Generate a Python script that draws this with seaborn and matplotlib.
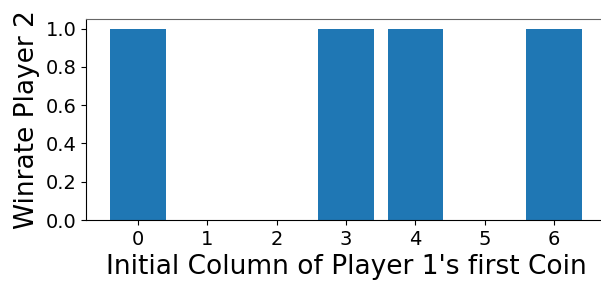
import matplotlib
matplotlib.use('Agg')
import matplotlib.pyplot as plt
import seaborn as sns
import pandas as pd

# colonnes initiales et winrate du joueur 2
columns = [0, 1, 2, 3, 4, 5, 6]
winrate = [1.0, 0.0, 0.0, 1.0, 1.0, 0.0, 1.0]
yticks = [0.0, 0.2, 0.4, 0.6, 0.8, 1.0]

df = pd.DataFrame({'col': columns, 'winrate': winrate})

fig = plt.figure(figsize=(6.01, 2.81), dpi=100)
ax = fig.add_axes([86 / 601, 1 - 220 / 281, 520 / 601, 201 / 281])
sns.barplot(x='col', y='winrate', data=df, color='#1f77b4', saturation=1,
            width=0.8, linewidth=0, ax=ax)
ax.set_xlim(-0.75, 6.75)
ax.set_ylim(0, 1.05)
ax.set_yticks(yticks)
ax.set_yticklabels([f'{t:.1f}' for t in yticks])
ax.set_xlabel("Initial Column of Player 1's first Coin", fontsize=19)
ax.set_ylabel("Winrate Player 2", fontsize=19)
ax.tick_params(labelsize=14)
ax.spines['right'].set_visible(False)
ax.spines['top'].set_color('0.4')
fig.savefig('out.png', dpi=100)
